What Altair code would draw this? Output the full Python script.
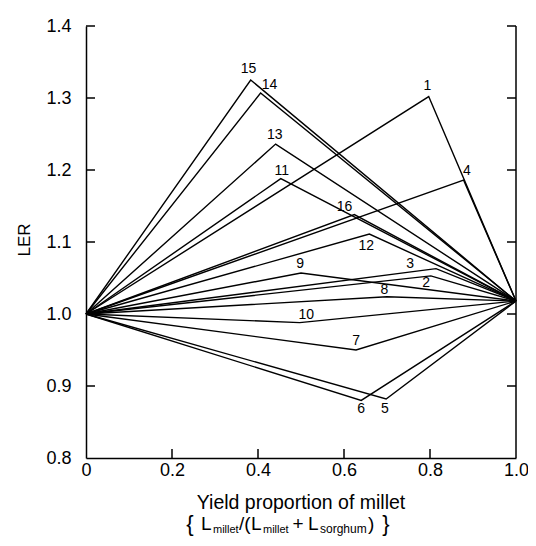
import altair as alt
import pandas as pd

# ---- data ----
series = ["1", "2", "3", "4", "5", "6", "7", "8",
          "9", "10", "11", "12", "13", "14", "15", "16"]
peak_x = [0.797, 0.802, 0.814, 0.878, 0.698, 0.640, 0.628, 0.700,
          0.500, 0.497, 0.453, 0.659, 0.441, 0.406, 0.383, 0.624]
peak_y = [1.302, 1.053, 1.063, 1.186, 0.882, 0.880, 0.950, 1.024,
          1.057, 0.988, 1.188, 1.111, 1.236, 1.307, 1.325, 1.138]
label_x = [0.794, 0.791, 0.754, 0.886, 0.695, 0.640, 0.628, 0.694,
           0.498, 0.512, 0.455, 0.652, 0.439, 0.427, 0.378, 0.601]
label_y = [1.317, 1.043, 1.069, 1.199, 0.868, 0.868, 0.963, 1.034,
           1.069, 0.999, 1.199, 1.095, 1.249, 1.318, 1.340, 1.149]
start_x, start_y = 0.0, 1.0
end_x, end_y = 1.0, 1.018

x_ticks = [0, 0.2, 0.4, 0.6, 0.8, 1.0]
x_inner_ticks = [0.2, 0.4, 0.6, 0.8]
y_ticks = [0.8, 0.9, 1.0, 1.1, 1.2, 1.3, 1.4]
y_inner_ticks = [0.9, 1.0, 1.1, 1.2, 1.3, 1.4]

W, H = 430, 432
FONT = "Liberation Sans"

rows = []
for s, px, py in zip(series, peak_x, peak_y):
    rows.append({"s": s, "o": 0, "x": start_x, "y": start_y})
    rows.append({"s": s, "o": 1, "x": px, "y": py})
    rows.append({"s": s, "o": 2, "x": end_x, "y": end_y})
lines_df = pd.DataFrame(rows)
labels_df = pd.DataFrame({"s": series, "x": label_x, "y": label_y})

xs = alt.Scale(domain=[0, 1], nice=False, zero=False)
ys = alt.Scale(domain=[0.8, 1.4], nice=False, zero=False)

x_axis = alt.Axis(values=x_ticks, labelExpr="datum.value == 0 ? '0' : format(datum.value, '.1f')",
                  ticks=False, tickSize=0, grid=False, title=None, labelFlush=False,
                  labelOverlap=False, labelPadding=3, labelFontSize=18, labelFont=FONT,
                  labelColor="black", domainColor="black", domainWidth=1.5)
y_axis = alt.Axis(values=y_ticks, format=".1f", ticks=False, tickSize=0, grid=False, title=None,
                  labelFlush=False, labelOverlap=False, labelPadding=15, labelFontSize=18,
                  labelFont=FONT, labelColor="black", domainColor="black", domainWidth=1.5)

lines = alt.Chart(lines_df).mark_line(color="black", strokeWidth=1.4).encode(
    x=alt.X("x:Q", scale=xs, axis=x_axis),
    y=alt.Y("y:Q", scale=ys, axis=y_axis),
    detail="s:N",
    order="o:Q",
)

labels = alt.Chart(labels_df).mark_text(font=FONT, fontSize=14, color="black",
                                        baseline="middle", align="center").encode(
    x=alt.X("x:Q", scale=xs, axis=x_axis),
    y=alt.Y("y:Q", scale=ys, axis=y_axis),
    text="s:N",
)

left_ticks = alt.Chart(pd.DataFrame({"v": y_inner_ticks})).mark_rule(
    color="black", strokeWidth=1.5).encode(
    y=alt.Y("v:Q", scale=ys, axis=y_axis), x=alt.value(0), x2=alt.value(9))
right_ticks = alt.Chart(pd.DataFrame({"v": y_inner_ticks})).mark_rule(
    color="black", strokeWidth=1.5).encode(
    y=alt.Y("v:Q", scale=ys, axis=y_axis), x=alt.value(W - 9), x2=alt.value(W))
bottom_ticks = alt.Chart(pd.DataFrame({"v": x_inner_ticks})).mark_rule(
    color="black", strokeWidth=1.5).encode(
    x=alt.X("v:Q", scale=xs, axis=x_axis), y=alt.value(H), y2=alt.value(H - 9))

one = pd.DataFrame({"k": [0]})
right_axis = alt.Chart(one).mark_rule(color="black", strokeWidth=1.5).encode(
    x=alt.datum(1.0, scale=xs, axis=x_axis),
    y=alt.datum(0.8, scale=ys, axis=y_axis), y2=alt.datum(1.4))


def txt(t, x, y, size, align="left", baseline="alphabetic", angle=0):
    return alt.Chart(one).mark_text(text=t, font=FONT, fontSize=size, color="black",
                                    align=align, baseline=baseline, angle=angle).encode(
        x=alt.value(x), y=alt.value(y))


ler = txt("LER", -61, 214, 17, align="center", baseline="middle", angle=270)
title = txt("Yield proportion of millet", W / 2, 477, 19.5, align="center", baseline="middle")
fb = 504
sb = 507
formula = [
    txt("{", 104, fb - 6, 22, align="center", baseline="middle"),
    txt("L", 115, fb, 19),
    txt("millet", 127, sb, 11),
    txt("/(", 153, fb, 19),
    txt("L", 165, fb, 19),
    txt("millet", 177, sb, 11),
    txt("+", 212, fb, 19, align="center"),
    txt("L", 222, fb, 19),
    txt("sorghum", 234, sb, 12),
    txt(")", 282, fb, 19),
    txt("}", 300, fb - 6, 22, align="center", baseline="middle"),
]

chart = alt.layer(lines, labels, left_ticks, right_ticks, bottom_ticks, right_axis,
                  ler, title, *formula).properties(
    width=W, height=H,
    autosize=alt.AutoSizeParams(type="none"),
    padding={"left": 78, "top": 18, "right": 12, "bottom": 78},
).configure_view(stroke=None)

chart.save("out.html", embed_options={"renderer": "svg", "actions": False})
